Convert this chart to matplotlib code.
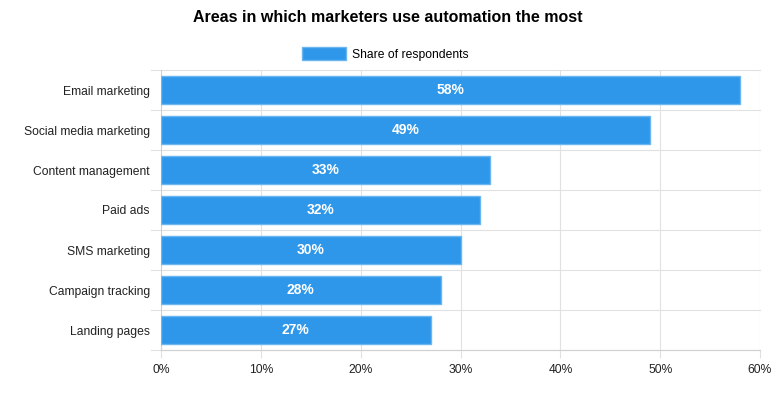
import matplotlib.pyplot as plt
from matplotlib.patches import Patch

# chart data
categories = ['Email marketing', 'Social media marketing', 'Content management',
              'Paid ads', 'SMS marketing', 'Campaign tracking', 'Landing pages']
shares = [58, 49, 33, 32, 30, 28, 27]
x_ticks = [0, 10, 20, 30, 40, 50, 60]

plt.rcParams['font.family'] = ['Liberation Sans', 'DejaVu Sans']

bar_color = '#2f97ea'
edge_color = '#6cb6f0'
grid_color = '#e1e1e1'

fig = plt.figure(figsize=(7.75, 4.0), dpi=100)
ax = fig.add_axes([161 / 775, 50 / 400, 599 / 775, 280 / 400])

ypos = list(range(len(categories)))
bars = ax.barh(ypos, shares, height=0.7, color=bar_color,
               edgecolor=edge_color, linewidth=1, zorder=3)

for y, v in zip(ypos, shares):
    ax.text(v / 2, y, f'{v}%', ha='center', va='center', color='white',
            fontsize=10, fontweight='bold', zorder=4)

ax.set_xlim(0, 60)
ax.set_ylim(len(categories) - 0.5, -0.5)
ax.set_xticks(x_ticks)
ax.set_xticklabels([f'{t}%' for t in x_ticks])
ax.set_yticks(ypos)
ax.set_yticklabels(categories)

# grid lines on category boundaries and value ticks
for b in [i - 0.5 for i in range(len(categories) + 1)]:
    ax.axhline(b, color=grid_color, linewidth=0.8, zorder=1, clip_on=False)
    ax.plot([-10 * 60 / 599, 0], [b, b], color=grid_color, linewidth=0.8,
            clip_on=False, zorder=1)
for t in x_ticks:
    ax.axvline(t, color=grid_color, linewidth=0.8, zorder=1)

ax.tick_params(axis='y', length=0, pad=8, labelsize=8.7, colors='#222222')
ax.tick_params(axis='x', length=6, color=grid_color, pad=4, labelsize=8.7,
               colors='#222222')
for s in ['top', 'right']:
    ax.spines[s].set_visible(False)
ax.spines['left'].set_color('#d0d0d0')
ax.spines['bottom'].set_color('#d0d0d0')
ax.spines['left'].set_zorder(2)
ax.spines['bottom'].set_zorder(2)

fig.text(0.5, 1 - 18 / 400, 'Areas in which marketers use automation the most',
         ha='center', va='center', fontsize=11.5, fontweight='bold', color='#000000')

handle = Patch(facecolor=bar_color, edgecolor=edge_color, linewidth=1)
fig.legend([handle], ['Share of respondents'], loc='center',
           bbox_to_anchor=(0.497, 1 - 54 / 400), frameon=False, fontsize=8.7,
           handlelength=3.6, handleheight=1.2, handletextpad=0.5)

fig.savefig('out.png', dpi=100)
